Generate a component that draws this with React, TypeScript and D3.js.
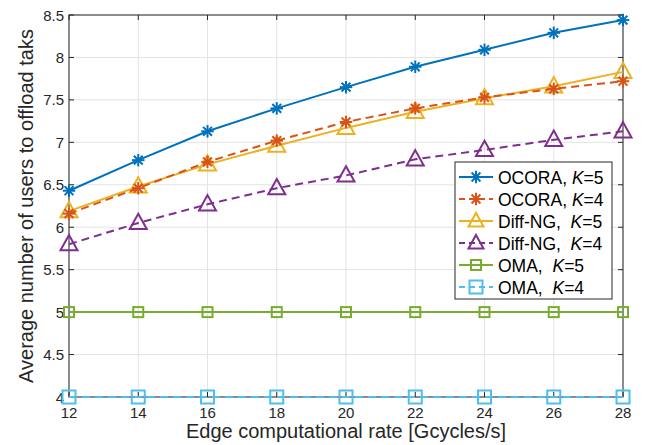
import React, { useEffect, useRef } from 'react';
import * as d3 from 'd3';

const rates = [12, 14, 16, 18, 20, 22, 24, 26, 28];
const ocoraK5 = [6.43, 6.79, 7.13, 7.40, 7.65, 7.89, 8.09, 8.29, 8.44];
const ocoraK4 = [6.16, 6.46, 6.77, 7.02, 7.24, 7.40, 7.53, 7.63, 7.72];
const diffK5 = [6.19, 6.48, 6.74, 6.96, 7.17, 7.36, 7.52, 7.66, 7.83];
const diffK4 = [5.80, 6.05, 6.27, 6.46, 6.61, 6.80, 6.91, 7.03, 7.13];
const omaK5 = [5, 5, 5, 5, 5, 5, 5, 5, 5];
const omaK4 = [4, 4, 4, 4, 4, 4, 4, 4, 4];
const yTicks = [4, 4.5, 5, 5.5, 6, 6.5, 7, 7.5, 8, 8.5];

const series = [
  { name: 'OCORA, ', k: '5', values: ocoraK5, color: '#0072BD', dash: null, marker: 'star', size: 12.5 },
  { name: 'OCORA, ', k: '4', values: ocoraK4, color: '#D95319', dash: '8,5', marker: 'star', size: 12.5 },
  { name: 'Diff-NG,  ', k: '5', values: diffK5, color: '#EDB120', dash: null, marker: 'tri', size: 17 },
  { name: 'Diff-NG,  ', k: '4', values: diffK4, color: '#7E2F8E', dash: '8,5', marker: 'tri', size: 17 },
  { name: 'OMA,  ', k: '5', values: omaK5, color: '#77AC30', dash: null, marker: 'sq', size: 10 },
  { name: 'OMA,  ', k: '4', values: omaK4, color: '#4DBEEE', dash: '8,5', marker: 'sq', size: 13 },
];

function drawMarker(g: any, type: string, cx: number, cy: number, size: number, color: string) {
  const r = size / 2;
  if (type === 'star') {
    const p = g.append('g').attr('stroke', color).attr('stroke-width', 2);
    for (let i = 0; i < 4; i++) {
      const a = (i * Math.PI) / 4;
      p.append('line')
        .attr('x1', cx - r * Math.cos(a)).attr('y1', cy - r * Math.sin(a))
        .attr('x2', cx + r * Math.cos(a)).attr('y2', cy + r * Math.sin(a));
    }
  } else if (type === 'tri') {
    const h = size * 0.9;
    g.append('path')
      .attr('d', `M${cx},${cy - h * 0.6}L${cx + r},${cy + h * 0.4}L${cx - r},${cy + h * 0.4}Z`)
      .attr('fill', 'none').attr('stroke', color).attr('stroke-width', 2);
  } else {
    g.append('rect')
      .attr('x', cx - r).attr('y', cy - r).attr('width', size).attr('height', size)
      .attr('fill', 'none').attr('stroke', color).attr('stroke-width', 2);
  }
}

export default function App() {
  const ref = useRef<SVGSVGElement>(null);

  useEffect(() => {
    const svg = d3.select(ref.current);
    svg.selectAll('*').remove();
    const margin = { top: 15, right: 26, bottom: 48, left: 69 };
    const W = 649, H = 445;
    const width = W - margin.left - margin.right;
    const height = H - margin.top - margin.bottom;
    const font = 'Liberation Sans, Arial, sans-serif';

    const x = d3.scaleLinear().domain([12, 28]).range([0, width]);
    const y = d3.scaleLinear().domain([4, 8.5]).range([height, 0]);

    const g = svg.append('g').attr('transform', `translate(${margin.left},${margin.top})`);

    // grid
    g.append('g').selectAll('line').data(rates).join('line')
      .attr('x1', d => x(d)).attr('x2', d => x(d)).attr('y1', 0).attr('y2', height)
      .attr('stroke', '#e3e3e3').attr('stroke-width', 1);
    g.append('g').selectAll('line').data(yTicks).join('line')
      .attr('y1', d => y(d)).attr('y2', d => y(d)).attr('x1', 0).attr('x2', width)
      .attr('stroke', '#e3e3e3').attr('stroke-width', 1);

    // box
    g.append('rect').attr('width', width).attr('height', height)
      .attr('fill', 'none').attr('stroke', '#262626').attr('stroke-width', 1);

    // ticks inward
    const tk = 5;
    rates.forEach(r => {
      g.append('line').attr('x1', x(r)).attr('x2', x(r)).attr('y1', height).attr('y2', height - tk).attr('stroke', '#262626');
      g.append('line').attr('x1', x(r)).attr('x2', x(r)).attr('y1', 0).attr('y2', tk).attr('stroke', '#262626');
    });
    yTicks.forEach(v => {
      g.append('line').attr('y1', y(v)).attr('y2', y(v)).attr('x1', 0).attr('x2', tk).attr('stroke', '#262626');
      g.append('line').attr('y1', y(v)).attr('y2', y(v)).attr('x1', width).attr('x2', width - tk).attr('stroke', '#262626');
    });

    g.append('g').selectAll('text').data(rates).join('text')
      .attr('x', d => x(d)).attr('y', height + 21)
      .attr('text-anchor', 'middle').attr('font-family', font).attr('font-size', 15).attr('fill', '#262626')
      .text(d => d);
    g.append('g').selectAll('text').data(yTicks).join('text')
      .attr('x', -5).attr('y', d => y(d) + 5.5)
      .attr('text-anchor', 'end').attr('font-family', font).attr('font-size', 15).attr('fill', '#262626')
      .text(d => String(d));

    g.append('text').attr('x', width / 2).attr('y', height + 41)
      .attr('text-anchor', 'middle').attr('font-family', font).attr('font-size', 20).attr('fill', '#262626')
      .text('Edge computational rate [Gcycles/s]');
    g.append('text')
      .attr('transform', `translate(-36,${height / 2}) rotate(-90)`)
      .attr('text-anchor', 'middle').attr('font-family', font).attr('font-size', 20).attr('fill', '#262626')
      .text('Average number of users to offload taks');

    const line = d3.line<number>().x((_, i) => x(rates[i])).y(d => y(d));

    series.slice().reverse().forEach(s => {
      g.append('path').datum(s.values).attr('d', line)
        .attr('fill', 'none').attr('stroke', s.color).attr('stroke-width', 2)
        .attr('stroke-dasharray', s.dash);
      s.values.forEach((v, i) => drawMarker(g, s.marker, x(rates[i]), y(v), s.size, s.color));
    });

    // legend
    const lx = 455 - margin.left, ly = 162 - margin.top;
    const lg = g.append('g').attr('transform', `translate(${lx},${ly})`);
    lg.append('rect').attr('width', 157).attr('height', 137)
      .attr('fill', '#fff').attr('stroke', '#262626').attr('stroke-width', 1);
    series.forEach((s, i) => {
      const cy = 15 + i * 22;
      lg.append('line').attr('x1', 4).attr('x2', 38).attr('y1', cy).attr('y2', cy)
        .attr('stroke', s.color).attr('stroke-width', 2).attr('stroke-dasharray', s.dash ? '6,4' : null);
      drawMarker(lg, s.marker, 21, cy, s.marker === 'tri' ? 15 : s.size, s.color);
      const t = lg.append('text').attr('x', 43).attr('y', cy + 6.5)
        .attr('font-family', font).attr('font-size', 17.5).attr('fill', '#000')
        .style('white-space', 'pre');
      t.append('tspan').text(s.name);
      t.append('tspan').attr('font-style', 'italic').text('K');
      t.append('tspan').text('=' + s.k);
    });
  }, []);

  return <svg ref={ref} width={649} height={445} style={{ position: 'absolute', left: 0, top: 0, background: '#fff' }} />;
}
